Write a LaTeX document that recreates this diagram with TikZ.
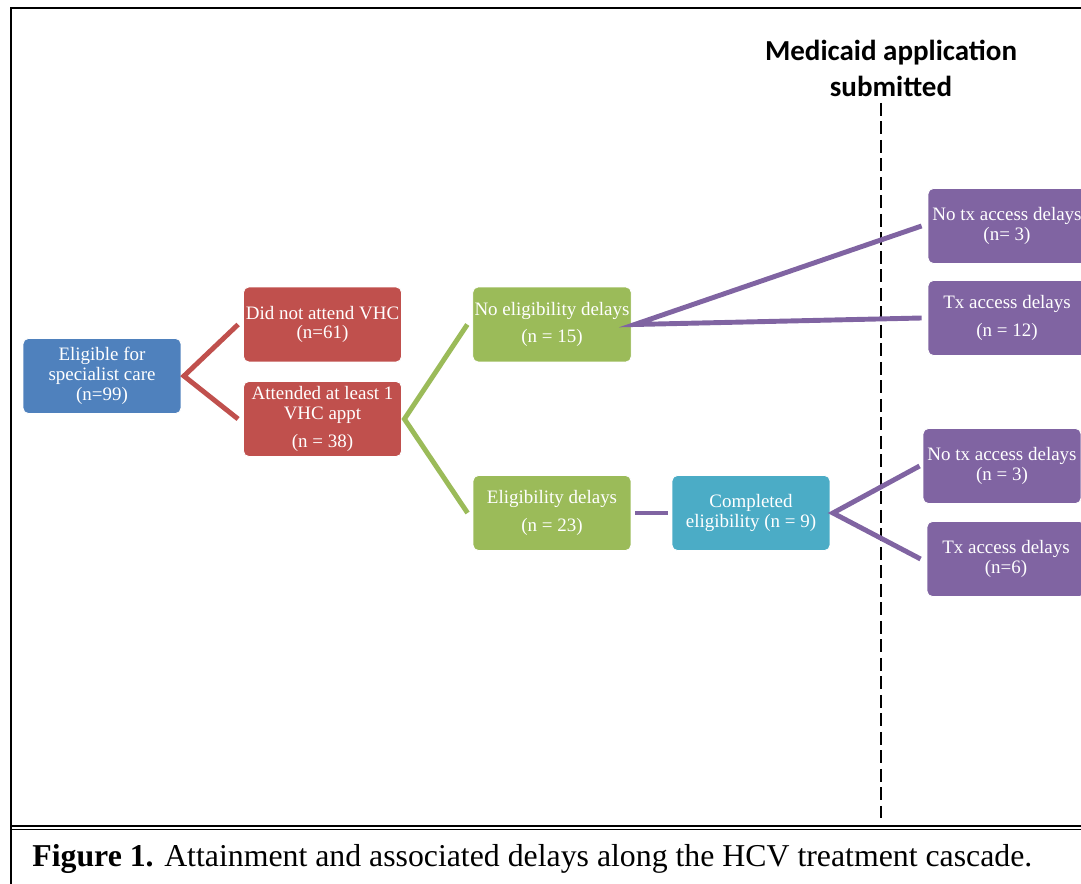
\documentclass[tikz,border=0pt]{standalone}
\usepackage{fontspec}
\setmainfont{Liberation Serif}
\newfontfamily\headfont{Carlito}
\definecolor{cblue}{HTML}{4F81BD}
\definecolor{cred}{HTML}{C0504D}
\definecolor{cgreen}{HTML}{9BBB59}
\definecolor{cteal}{HTML}{4BACC6}
\definecolor{cpurple}{HTML}{8064A2}
\begin{document}
\begin{tikzpicture}[
    x=0.02cm, y=-0.02cm,
    box/.style={rectangle, draw=white, line width=0.5pt, text=white, minimum width=3.16cm, minimum height=1.5cm, align=center, inner sep=1pt, rounded corners=3pt, font=\fontsize{10.8}{11.3}\selectfont},
    link/.style={line width=2.8pt, line join=miter},
    heading/.style={align=center, font=\headfont\bfseries\fontsize{16.5}{20.5}\selectfont},
    deadline/.style={line width=1.2pt, dash pattern=on 0.26cm off 0.11cm}
]
\clip (0,0) rectangle (1081,884);

% frame and caption
\draw[line width=1.1pt] (1081,8) -- (11,8) -- (11,884);
\draw[line width=1.2pt] (11,826) -- (1081,826);
\draw[line width=0.6pt] (11,829.5) -- (1081,829.5);
\node[anchor=base west, inner sep=0pt, font=\fontsize{18.1}{21}\selectfont] (caption) at (32,866) {\textbf{Figure 1.} Attainment and associated delays along the HCV treatment cascade.};

% Medicaid line
\node[heading] (medicaid) at (891,68) {Medicaid application\\submitted};
\coordinate (dtop) at (881,103);
\coordinate (dbot) at (881,818);
\draw[deadline] (dtop) -- (dbot);

\node[box, fill=cblue] (elig) at (102,376) {Eligible for\\specialist care\\(n=99)};
\node[box, fill=cred] (nonattend) at (322.5,324.5) {Did not attend VHC\\(n=61)};
\node[box, fill=cred] (attend) at (322.5,419) {Attended at least 1\\VHC appt\\[4.5pt](n = 38)};
\node[box, fill=cgreen] (noelig) at (552,324.5) {No eligibility delays\\[4.2pt](n = 15)};
\node[box, fill=cgreen] (eligdel) at (552,513) {Eligibility delays\\[4.2pt](n = 23)};
\node[box, fill=cteal] (complete) at (751,513) {Completed\\eligibility (n = 9)};
\node[box, fill=cpurple] (notxA) at (1007,226) {No tx access delays\\(n= 3)};
\node[box, fill=cpurple] (txA) at (1007,318) {Tx access delays\\[4.2pt](n = 12)};
\node[box, fill=cpurple] (notxB) at (1002,466) {No tx access delays\\(n = 3)};
\node[box, fill=cpurple] (txB) at (1006,559) {Tx access delays\\(n=6)};

\draw[link, cred] ([xshift=-0.1cm]nonattend.west) -- ([xshift=0.05cm]elig.east) -- ([xshift=-0.1cm]attend.west);
\draw[link, cgreen] ([xshift=-0.1cm]noelig.west) -- ([xshift=0.05cm]attend.east) -- ([xshift=-0.1cm]eligdel.west);
\draw[link, cpurple] ([xshift=-0.12cm]notxA.west) -- ([xshift=0.06cm]noelig.east) -- ([xshift=-0.12cm]txA.west);
\draw[link, cpurple] ([xshift=0.08cm]eligdel.east) -- ([xshift=-0.08cm]complete.west);
\draw[link, cpurple] ([xshift=-0.06cm]notxB.west) -- ([xshift=0.05cm]complete.east) -- ([xshift=-0.12cm]txB.west);

\end{tikzpicture}
\end{document}
